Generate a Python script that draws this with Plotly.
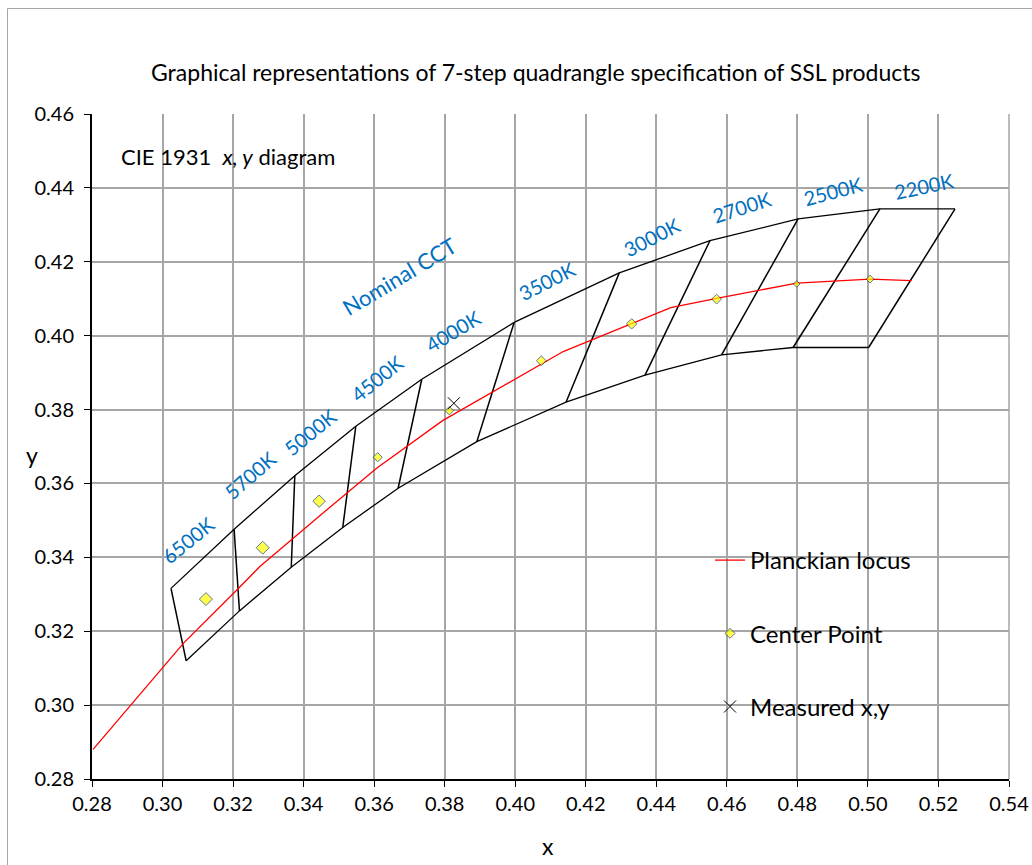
import plotly.graph_objects as go

# ---------------- data ----------------
# quadrangle upper boundary (corner points, left to right)
upper_x = [0.3024, 0.3203, 0.3375, 0.3548, 0.3735, 0.3997, 0.4295, 0.4552, 0.4802, 0.5034, 0.5247]
upper_y = [0.3316, 0.3476, 0.3621, 0.3755, 0.3882, 0.4036, 0.4170, 0.4257, 0.4316, 0.4343, 0.4343]
# quadrangle lower boundary (corner points, left to right)
lower_x = [0.3067, 0.3218, 0.3365, 0.3511, 0.3668, 0.3891, 0.4144, 0.4368, 0.4585, 0.4788, 0.5002]
lower_y = [0.3120, 0.3255, 0.3373, 0.3481, 0.3587, 0.3713, 0.3820, 0.3893, 0.3948, 0.3968, 0.3968]

# Planckian locus
locus_x = [0.2803, 0.2908, 0.3059, 0.3210, 0.3276, 0.3450, 0.3607, 0.3794, 0.4136, 0.4441,
           0.4571, 0.4798, 0.5006, 0.5124]
locus_y = [0.2880, 0.2999, 0.3167, 0.3311, 0.3375, 0.3516, 0.3641, 0.3770, 0.3957, 0.4076,
           0.4101, 0.4142, 0.4153, 0.4149]

# centre points of nominal CCT quadrangles
cct_labels = ["6500K", "5700K", "5000K", "4500K", "4000K", "3500K", "3000K", "2700K", "2500K", "2200K"]
center_x = [0.3123, 0.3284, 0.3444, 0.3610, 0.3813, 0.4074, 0.4330, 0.4571, 0.4798, 0.5006]
center_y = [0.3287, 0.3426, 0.3552, 0.3671, 0.3797, 0.3932, 0.4032, 0.4099, 0.4140, 0.4153]

# measured point
measured_x = [0.3826]
measured_y = [0.3817]

# axis ticks
x_ticks = [0.28, 0.30, 0.32, 0.34, 0.36, 0.38, 0.40, 0.42, 0.44, 0.46, 0.48, 0.50, 0.52, 0.54]
y_ticks = [0.28, 0.30, 0.32, 0.34, 0.36, 0.38, 0.40, 0.42, 0.44, 0.46]

# ---------------- styles / label placement ----------------
center_sizes = [10, 10, 9.5, 7, 6.5, 7.5, 8, 7.5, 5, 6]
label_pos_x = [0.3072, 0.3248, 0.3418, 0.3609, 0.3823, 0.4089, 0.4387, 0.4642, 0.4901, 0.5159]
label_pos_y = [0.3447, 0.3623, 0.3740, 0.3885, 0.4013, 0.4148, 0.4266, 0.4347, 0.4392, 0.4405]
label_angles = [-39, -41, -39, -39, -31, -27, -27, -18, -15, -12]

FONT = "Lato"
BLUE = "#0070C0"
W, H = 1032, 865   # plot area spans px 92..1009 (x) and 114..779 (y)


def px(p):
    return (p - 92) / 917


def py(p):
    return (779 - p) / 665


fig = go.Figure()

# quadrangle boundaries
fig.add_trace(go.Scatter(x=upper_x, y=upper_y, mode="lines",
                         line=dict(color="black", width=1.3), showlegend=False, hoverinfo="skip"))
fig.add_trace(go.Scatter(x=lower_x, y=lower_y, mode="lines",
                         line=dict(color="black", width=1.3), showlegend=False, hoverinfo="skip"))
# dividers between quadrangles (upper corner to lower corner)
div_x, div_y = [], []
for ux, uy, lx, ly in zip(upper_x, upper_y, lower_x, lower_y):
    div_x += [ux, lx, None]
    div_y += [uy, ly, None]
fig.add_trace(go.Scatter(x=div_x, y=div_y, mode="lines",
                         line=dict(color="black", width=1.5), showlegend=False, hoverinfo="skip"))

# Planckian locus
fig.add_trace(go.Scatter(x=locus_x, y=locus_y, mode="lines", name="Planckian locus",
                         line=dict(color="#FF0000", width=1.3), legendgroup="a"))
# centre points
fig.add_trace(go.Scatter(x=center_x, y=center_y, mode="markers", name="Center Point",
                         marker=dict(symbol="diamond", size=center_sizes, color="#FFFF00",
                                     line=dict(color="#1F3A70", width=1)),
                         legendgroup="b"))
# measured point
fig.add_trace(go.Scatter(x=measured_x, y=measured_y, mode="markers", name="Measured x,y",
                         marker=dict(symbol="x-thin", size=12, color="black",
                                     line=dict(color="black", width=1)),
                         legendgroup="c"))

annotations = []
for t, x, y, a in zip(cct_labels, label_pos_x, label_pos_y, label_angles):
    annotations.append(dict(x=x, y=y, xref="x", yref="y", text=t, showarrow=False,
                            textangle=a, font=dict(family=FONT, size=20, color=BLUE)))
annotations.append(dict(x=0.3670, y=0.4161, xref="x", yref="y", text="Nominal CCT",
                        showarrow=False, textangle=-31,
                        font=dict(family=FONT, size=22, color=BLUE)))
# title
annotations.append(dict(x=px(535.5), y=py(72), xref="paper", yref="paper",
                        text="Graphical representations of 7-step quadrangle specification of SSL products",
                        showarrow=False, xanchor="center", yanchor="middle",
                        font=dict(family=FONT, size=23, color="black")))
# diagram note
annotations.append(dict(x=px(119), y=py(157), xref="paper", yref="paper",
                        text="CIE 1931  <i>x, y</i> diagram", showarrow=False,
                        xanchor="left", yanchor="middle",
                        font=dict(family=FONT, size=22, color="black")))
# axis titles
annotations.append(dict(x=px(548), y=py(846), xref="paper", yref="paper",
                        text="x", showarrow=False, xanchor="center", yanchor="middle",
                        font=dict(family=FONT, size=23, color="black")))
annotations.append(dict(x=px(32), y=py(455), xref="paper", yref="paper",
                        text="y", showarrow=False, xanchor="center", yanchor="middle",
                        font=dict(family=FONT, size=23, color="black")))

shapes = [
    # white box behind the diagram note
    dict(type="rect", xref="paper", yref="paper", layer="between",
         x0=px(105), x1=px(390), y0=py(172), y1=py(130),
         fillcolor="white", line=dict(width=0)),
    # white box behind legend
    dict(type="rect", xref="paper", yref="paper", layer="between",
         x0=px(658), x1=px(962), y0=py(743), y1=py(525),
         fillcolor="white", line=dict(width=0)),
    # right edge gridline
    dict(type="line", xref="paper", yref="paper", layer="between",
         x0=1, x1=1, y0=0, y1=1, line=dict(color="#A6A6A6", width=1.5)),
    # outer chart border
    dict(type="rect", xref="paper", yref="paper", layer="above",
         x0=px(7.5), x1=px(1045), y0=py(880), y1=py(8.5),
         fillcolor="rgba(0,0,0,0)", line=dict(color="#A6A6A6", width=1)),
]

axis_common = dict(
    showgrid=True, gridcolor="#A6A6A6", gridwidth=1.5,
    showline=True, linecolor="black", linewidth=2,
    ticks="outside", ticklen=6, tickcolor="black", tickwidth=1,
    zeroline=False, tickformat=".2f", tickmode="array", ticklabeloverflow="allow",
    automargin=False,
    tickfont=dict(family=FONT, size=20, color="black"),
)

fig.update_layout(
    width=W, height=H, autosize=False,
    margin=dict(l=92, r=W - 1009, t=114, b=H - 779),
    paper_bgcolor="white", plot_bgcolor="white",
    xaxis=dict(range=[0.28, 0.54], tickvals=x_ticks, **axis_common),
    yaxis=dict(range=[0.28, 0.46], tickvals=y_ticks, ticklabelstandoff=6, **axis_common),
    legend=dict(x=px(710), y=py(538), xanchor="left", yanchor="top",
                bgcolor="rgba(0,0,0,0)", borderwidth=0, traceorder="grouped",
                tracegroupgap=39, font=dict(family=FONT, size=24, color="black")),
    annotations=annotations,
    shapes=shapes,
    showlegend=True,
)

fig.write_html("out.html", config={"displayModeBar": False},
               post_script="document.body.style.margin='0';document.body.style.overflow='hidden';")
